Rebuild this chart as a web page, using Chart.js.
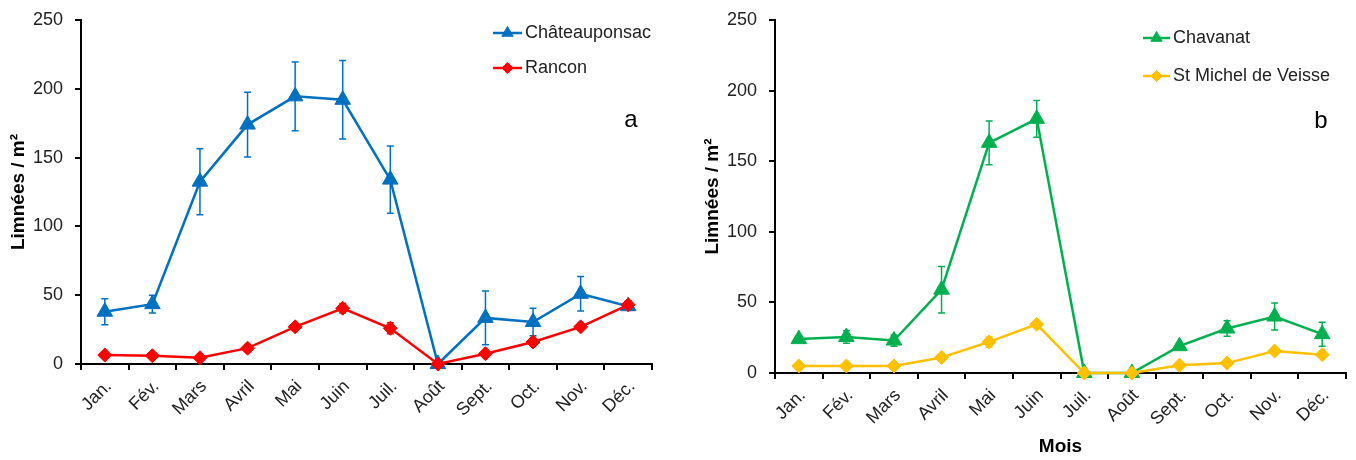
<!DOCTYPE html>
<html>
<head>
<meta charset="utf-8">
<script src="https://cdn.jsdelivr.net/npm/chart.js@4/dist/chart.umd.min.js"></script>
<style>
    html, body { margin: 0; padding: 0; background: #fff; }
    .caja { position: absolute; top: 0; width: 678px; height: 460px; }
    #cajaA { left: 0; }
    #cajaB { left: 678px; }
</style>
</head>
<body>
<div class="caja" id="cajaA"><canvas id="graficoA"></canvas></div>
<div class="caja" id="cajaB"><canvas id="graficoB"></canvas></div>
<script>
    // Datos
    var mois = ['Jan.', 'Fév.', 'Mars', 'Avril', 'Mai', 'Juin', 'Juil.', 'Août', 'Sept.', 'Oct.', 'Nov.', 'Déc.'];
    var ticksY = [0, 50, 100, 150, 200, 250];

    var chateauponsac    = [38, 43.5, 132.5, 174, 194.5, 192, 134, 0, 33.5, 30.5, 51, 42];
    var chateauponsacErr = [9.5, 6.5, 24, 23.5, 25, 28.5, 24.5, 0, 19.5, 10, 12.5, 2];
    var rancon           = [6.5, 6, 4.5, 11.5, 27, 40.5, 26, 0, 7.5, 16, 27, 43];
    var ranconErr        = [1, 1, 1, 2.5, 2.5, 3.5, 4, 0, 2, 2.5, 2, 3];

    var chavanat         = [24, 25.5, 23, 59, 163, 180, 0, 0, 19, 31.5, 40, 27.5];
    var chavanatErr      = [2, 4.5, 4, 16.5, 15.5, 13, 0, 0, 2, 5.5, 9.5, 8.5];
    var stMichel         = [5, 5, 5, 11, 22, 34.5, 0, 0, 5.5, 7, 15.5, 13];
    var stMichelErr      = [1, 1, 1, 1.5, 3.5, 2, 0, 0, 1, 1, 1.5, 1.5];

    Chart.defaults.font.family = "'Liberation Sans', Arial, sans-serif";
    Chart.defaults.color = '#222';

    // Barras de error (desde la escala y)
    var barrasError = {
        id: 'barrasError',
        beforeDatasetsDraw: function (chart) {
            var ctx = chart.ctx;
            var escalaY = chart.scales.y;
            chart.data.datasets.forEach(function (ds, i) {
                if (!ds.errores) return;
                var meta = chart.getDatasetMeta(i);
                ctx.save();
                ctx.strokeStyle = ds.borderColor;
                ctx.lineWidth = 1.5;
                meta.data.forEach(function (pt, j) {
                    var e = ds.errores[j];
                    if (!e) return;
                    var arriba = escalaY.getPixelForValue(ds.data[j] + e);
                    var abajo = escalaY.getPixelForValue(ds.data[j] - e);
                    ctx.beginPath();
                    ctx.moveTo(pt.x, arriba); ctx.lineTo(pt.x, abajo);
                    ctx.moveTo(pt.x - 3.5, arriba); ctx.lineTo(pt.x + 3.5, arriba);
                    ctx.moveTo(pt.x - 3.5, abajo); ctx.lineTo(pt.x + 3.5, abajo);
                    ctx.stroke();
                });
                ctx.restore();
            });
        }
    };

    // Leyenda dentro del gráfico + letra del panel
    var leyenda = {
        id: 'leyenda',
        afterDraw: function (chart, args, opts) {
            var ctx = chart.ctx;
            chart.data.datasets.forEach(function (ds, i) {
                var yy = opts.y + i * opts.paso;
                ctx.save();
                ctx.strokeStyle = ds.borderColor;
                ctx.lineWidth = 2.5;
                ctx.beginPath();
                ctx.moveTo(opts.x, yy);
                ctx.lineTo(opts.x + opts.largo, yy);
                ctx.stroke();
                ctx.fillStyle = ds.backgroundColor;
                ctx.lineWidth = 1;
                Chart.helpers.drawPoint(ctx, { pointStyle: ds.pointStyle, radius: ds.pointStyle === 'triangle' ? 6.5 : 5.5, borderWidth: 1 }, opts.x + opts.largo / 2, yy);
                ctx.fillStyle = '#222';
                ctx.font = "18px 'Liberation Sans', Arial, sans-serif";
                ctx.textBaseline = 'middle';
                ctx.textAlign = 'left';
                ctx.fillText(ds.label, opts.x + opts.largo + 3, yy);
                ctx.restore();
            });
            ctx.save();
            ctx.fillStyle = '#000';
            ctx.font = "24px 'Liberation Sans', Arial, sans-serif";
            ctx.textAlign = 'center';
            ctx.textBaseline = 'middle';
            ctx.fillText(opts.letra, opts.letraX, opts.letraY);
            ctx.restore();
        }
    };

    function serie(nombre, datos, errores, color, estilo, orden) {
        return {
            label: nombre,
            data: datos,
            errores: errores,
            borderColor: color,
            backgroundColor: color,
            borderWidth: 2.5,
            pointStyle: estilo,
            pointRadius: estilo === 'triangle' ? 9 : 7,
            pointBorderWidth: 1,
            tension: 0,
            clip: false,
            order: orden
        };
    }

    function opcionesGrafico(cfg) {
        return {
            responsive: true,
            maintainAspectRatio: false,
            animation: false,
            layout: { padding: { top: cfg.arriba, right: cfg.derecha, left: 0, bottom: 0 } },
            plugins: {
                legend: { display: false },
                tooltip: { enabled: false },
                leyenda: cfg.leyenda
            },
            scales: {
                x: {
                    type: 'category',
                    offset: true,
                    ticks: { color: '#222', font: { size: 18 }, minRotation: 45, maxRotation: 45, autoSkip: false, padding: 6, labelOffset: 4 },
                    grid: { drawOnChartArea: false, color: '#000', lineWidth: 2, tickLength: 6, offset: true },
                    border: { color: '#000', width: 2 },
                    title: { display: !!cfg.tituloX, text: cfg.tituloX || '', color: '#000', font: { size: 19, weight: 'bold' }, padding: { bottom: 2 } },
                    afterFit: function (escala) { escala.height = cfg.altoX; }
                },
                y: {
                    min: 0,
                    max: 250,
                    afterBuildTicks: function (escala) { escala.ticks = ticksY.map(function (v) { return { value: v }; }); },
                    ticks: { color: '#222', font: { size: 18 }, padding: 12 },
                    grid: { drawOnChartArea: false, color: '#000', lineWidth: 2, tickLength: 6 },
                    border: { color: '#000', width: 2 },
                    title: { display: true, text: 'Limnées / m²', color: '#000', font: { size: 19, weight: 'bold' }, padding: { top: cfg.padTituloY } },
                    afterFit: function (escala) {
                        escala.width = cfg.anchoY;
                        escala.paddingTop = 0;
                        escala.paddingBottom = 0;
                    }
                }
            }
        };
    }

    new Chart(document.getElementById('graficoA').getContext('2d'), {
        type: 'line',
        data: {
            labels: mois,
            datasets: [
                serie('Châteauponsac', chateauponsac, chateauponsacErr, '#0070C0', 'triangle', 1),
                serie('Rancon', rancon, ranconErr, '#FF0000', 'rectRot', 0)
            ]
        },
        options: opcionesGrafico({
            arriba: 20, derecha: 26, anchoY: 81, altoX: 96, padTituloY: 7,
            leyenda: { x: 493, y: 33, paso: 35, largo: 29, letra: 'a', letraX: 631, letraY: 120 }
        }),
        plugins: [barrasError, leyenda]
    });

    new Chart(document.getElementById('graficoB').getContext('2d'), {
        type: 'line',
        data: {
            labels: mois,
            datasets: [
                serie('Chavanat', chavanat, chavanatErr, '#00B050', 'triangle', 1),
                serie('St Michel de Veisse', stMichel, stMichelErr, '#FFC000', 'rectRot', 0)
            ]
        },
        options: opcionesGrafico({
            arriba: 20, derecha: 7, anchoY: 97, altoX: 87, padTituloY: 23, tituloX: 'Mois',
            leyenda: { x: 465, y: 38, paso: 38, largo: 27, letra: 'b', letraX: 643, letraY: 121 }
        }),
        plugins: [barrasError, leyenda]
    });
</script>
</body>
</html>
